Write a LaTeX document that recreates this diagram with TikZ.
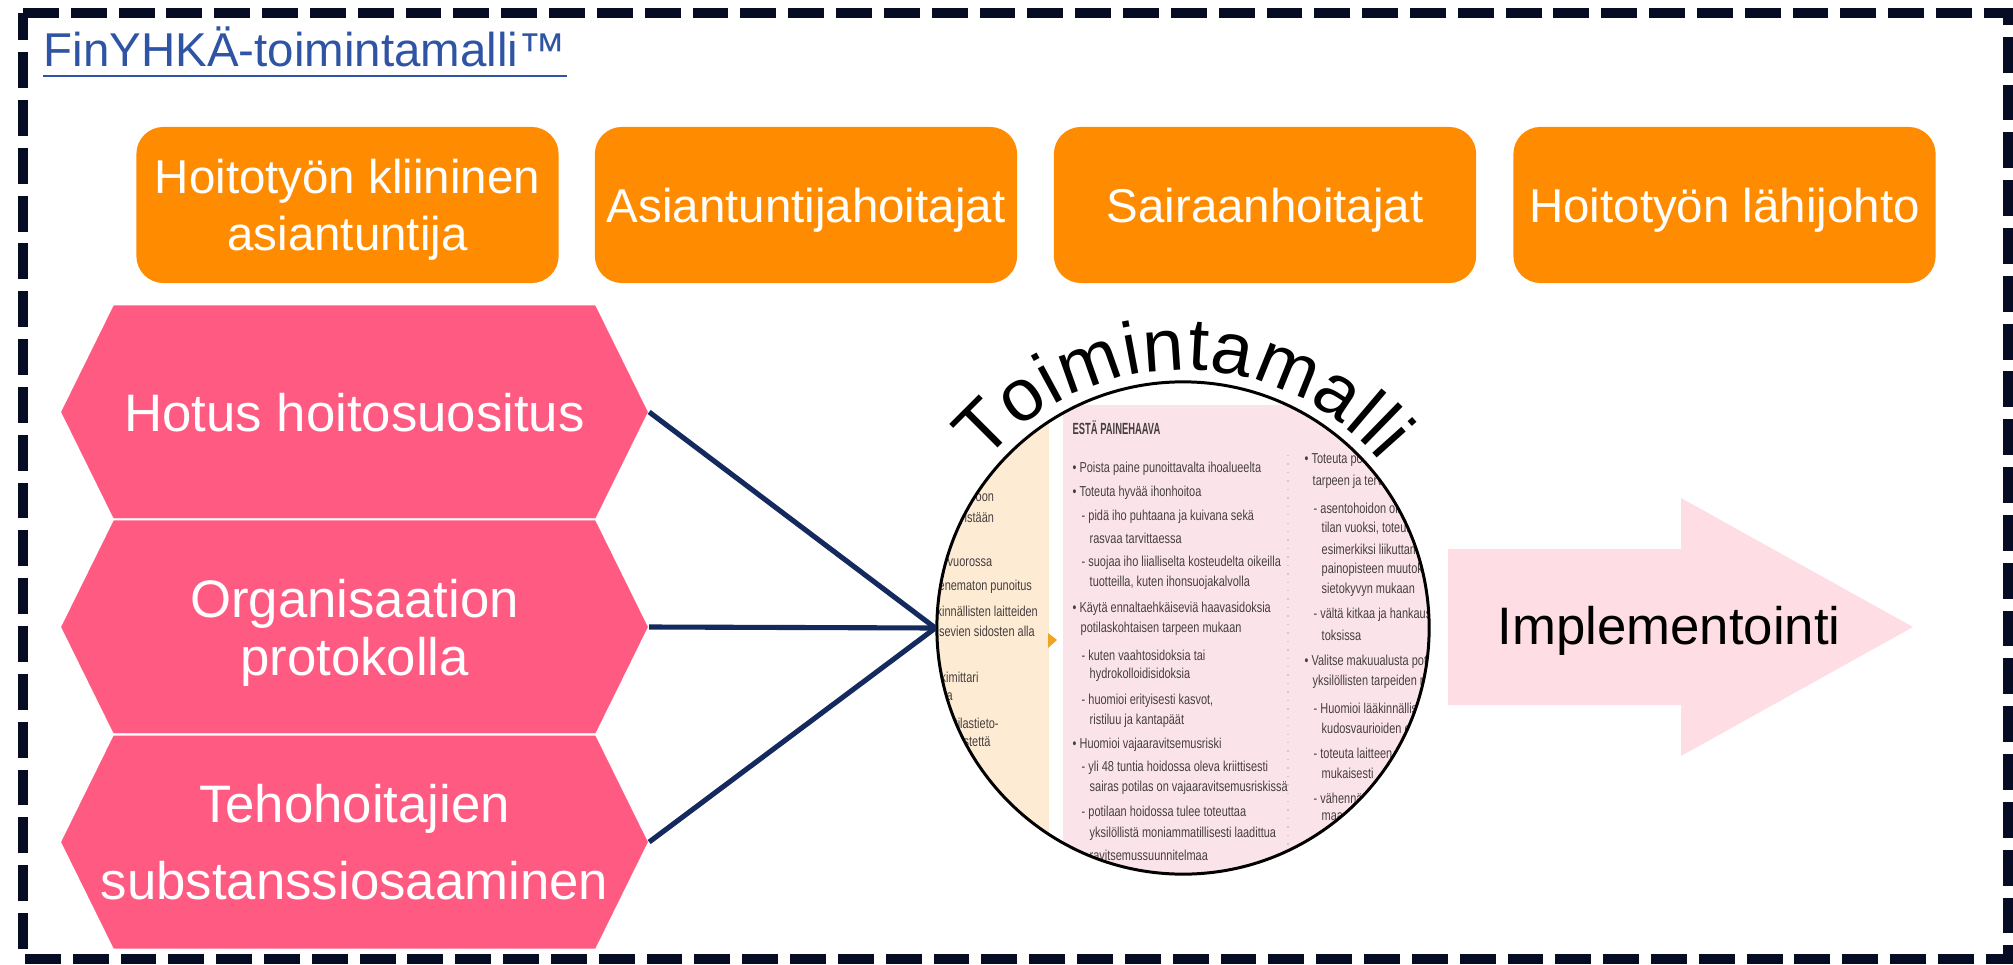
\documentclass[tikz,border=0pt]{standalone}
\usepackage{fontspec}
\setmainfont{Liberation Sans}
\newfontfamily\imgfont[FakeStretch=0.76]{Liberation Sans}
\newfontfamily\imgheadfont[FakeStretch=0.58]{Liberation Sans}
\usetikzlibrary{backgrounds}
\usetikzlibrary{decorations.text}

\definecolor{borderdark}{RGB}{5,12,35}
\definecolor{titleblue}{RGB}{47,84,163}
\definecolor{boxorange}{RGB}{255,140,0}
\definecolor{hexpink}{RGB}{255,91,130}
\definecolor{linknavy}{RGB}{20,41,94}
\definecolor{arrowpink}{RGB}{255,221,228}
\definecolor{imgbeige}{RGB}{253,235,212}
\definecolor{imgpink}{RGB}{251,228,233}
\definecolor{imgmark}{RGB}{242,163,35}
\definecolor{imggray}{RGB}{70,62,62}

\newcommand\arcfont{\fontsize{21}{24}\selectfont}

\begin{document}
\begin{tikzpicture}[x=0.01cm, y=-0.01cm,
  border/.style={draw=borderdark, line width=2.85pt, dash pattern=on 10.2pt off 3.4pt},
  titletext/.style={anchor=base west, inner sep=0, text=titleblue, font=\fontsize{13.5}{16}\selectfont},
  rolebox/.style={rectangle, rounded corners=0.27cm, fill=boxorange, text=white, minimum width=4.22cm, minimum height=1.56cm, inner sep=0, align=center, text depth=0pt, font=\fontsize{13.5}{16.2}\selectfont},
  hexbox/.style={rectangle, minimum width=5.89cm, minimum height=2.15cm, inner sep=0, outer sep=0, align=center, text=white, text depth=0pt, font=\fontsize{15}{16.5}\selectfont},
  hexfill/.style={fill=hexpink, draw=white, line width=0.6pt},
  link/.style={draw=linknavy, line width=1.45pt},
  imgtxt/.style={inner sep=0, anchor=west, text=imggray, font=\imgfont\fontsize{4.1}{4.8}\selectfont},
  imghead/.style={inner sep=0, anchor=west, text=imggray, font=\imgheadfont\bfseries\fontsize{4.6}{5}\selectfont},
  impltext/.style={inner sep=0, text depth=0pt, font=\fontsize{15}{18}\selectfont}]

\useasboundingbox (0,0) rectangle (2013,964);

\def\R{246}
\def\Rtext{258}

% frame and heading
\draw[border] (23,13) -- (2008,13) -- (2008,959) -- (23,959) -- cycle;
\node[titletext] (title) at (43,67) {FinYHKÄ-toimintamalli™};
\draw[titleblue, line width=0.85pt] ([yshift=-0.09cm]title.base west) -- ([yshift=-0.09cm]title.base east);

% roles
\node[rolebox] (klin) at (347.5,205) {Hoitotyön kliininen\\asiantuntija};
\node[rolebox] (asian) at (806,205) {Asiantuntijahoitajat};
\node[rolebox] (sair) at (1265,205) {Sairaanhoitajat};
\node[rolebox] (lahi) at (1724.5,205) {Hoitotyön lähijohto};

% sources
\node[hexbox] (hotus) at (354.5,412) {Hotus hoitosuositus};
\node[hexbox] (org) at (354.5,627) {Organisaation\\protokolla};
\node[hexbox] (teho) at (354.5,842) {Tehohoitajien\\[5.4pt]substanssiosaaminen};

\begin{scope}[on background layer]
\foreach \n in {hotus,org,teho}
  \fill[hexfill] ([xshift=0.53cm]\n.north west) -- ([xshift=-0.53cm]\n.north east) -- (\n.east)
    -- ([xshift=-0.53cm]\n.south east) -- ([xshift=0.53cm]\n.south west) -- (\n.west) -- cycle;
\end{scope}

% the model page, seen through the circle
\coordinate (mc) at (1183,628);
\begin{scope}
\clip (mc) circle (\R);
\fill[imgbeige] (930,370) rectangle (1049,880);
\fill[imgpink] (1063,405) rectangle (1440,880);
\draw[gray!40, dotted, line width=0.4pt] (1288,455) -- (1288,880);
\fill[imgmark] (1048,633) -- (1057,640) -- (1048,648) -- cycle;

\foreach \x/\y/\t in {975/498/oon, 964/517/istään, 947/563/vuorossa, 938/587/enematon punoitus,
  936/611/kinnällisten laitteiden, 936/631/isevien sidosten alla, 940/677/kimittari,
  946/697/a, 954/723/tilastieto-, 963/742/stettä}
  \node[imgtxt] (r\y) at (\x,\y) {\t};

\node[imghead] (esta) at (1072,428) {ESTÄ PAINEHAAVA};
\foreach \x/\y/\t in {
  1072/469/{• Poista paine punoittavalta ihoalueelta},
  1072/493/{• Toteuta hyvää ihonhoitoa},
  1081/517/{- pidä iho puhtaana ja kuivana sekä},
  1089/538/{rasvaa tarvittaessa},
  1081/563/{- suojaa iho liialliselta kosteudelta oikeilla},
  1089/583/{tuotteilla, kuten ihonsuojakalvolla},
  1072/609/{• Käytä ennaltaehkäiseviä haavasidoksia},
  1080/629/{potilaskohtaisen tarpeen mukaan},
  1081/655/{- kuten vaahtosidoksia tai},
  1089/675/{hydrokolloidisidoksia},
  1081/701/{- huomioi erityisesti kasvot,},
  1089/721/{ristiluu ja kantapäät},
  1072/745/{• Huomioi vajaaravitsemusriski},
  1081/768/{- yli 48 tuntia hoidossa oleva kriittisesti},
  1089/788/{sairas potilas on vajaaravitsemusriskissä},
  1081/813/{- potilaan hoidossa tulee toteuttaa},
  1089/834/{yksilöllistä moniammatillisesti laadittua},
  1089/855/{ravitsemussuunnitelmaa}}
  \node[imgtxt] (p\y) at (\x,\y) {\t};

\foreach \x/\y/\t in {
  1304/460/{• Toteuta poti},
  1312/482/{tarpeen ja terve},
  1313/508/{- asentohoidon oli},
  1321/528/{tilan vuoksi, toteuta},
  1321/549/{esimerkiksi liikuttamal},
  1321/570/{painopisteen muutoksi},
  1321/590/{sietokyvyn mukaan},
  1313/615/{- vältä kitkaa ja hankaus},
  1321/635/{toksissa},
  1304/662/{• Valitse makuualusta potil},
  1312/682/{yksilöllisten tarpeiden mu},
  1313/708/{- Huomioi lääkinnällisten},
  1321/728/{kudosvaurioiden est},
  1313/753/{- toteuta laitteen k},
  1321/773/{mukaisesti},
  1313/798/{- vähennä},
  1321/817/{maa}}
  \node[imgtxt] (q\y) at (\x,\y) {\t};
\end{scope}

\node[circle, draw=black, line width=0.85pt, minimum size=4.92cm, inner sep=0] (model) at (mc) {};
\path[decorate, decoration={text along path, text={|\arcfont|Toimintamalli}, text align={fit to path}}]
  ([shift={(220:\Rtext)}]mc) arc[start angle=220, end angle=320, radius=\Rtext];

\draw[link] (hotus.east) -- (model.west);
\draw[link] (org.east) -- (model.west);
\draw[link] (teho.east) -- (model.west);

% implementation arrow
\fill[arrowpink] (1448,549) -- (1681,549) -- (1681,498) -- (1913,627) -- (1681,756) -- (1681,705) -- (1448,705) -- cycle;
\node[impltext] (impl) at (1669,625) {Implementointi};

\end{tikzpicture}
\end{document}
